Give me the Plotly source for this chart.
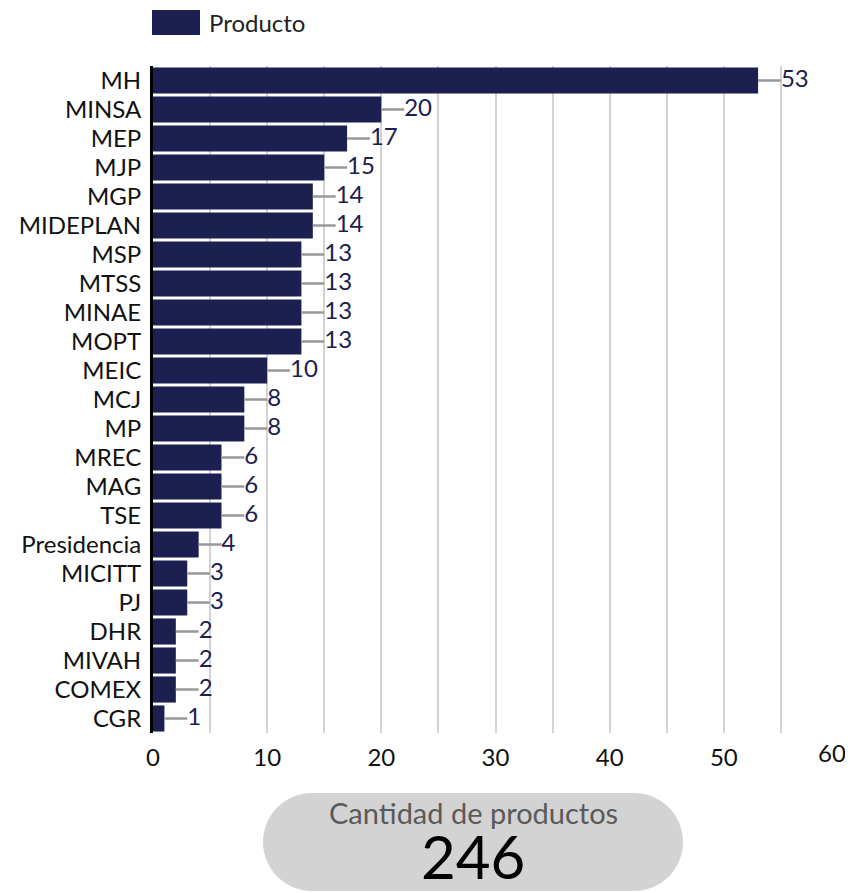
import plotly.graph_objects as go

categories = ["MH", "MINSA", "MEP", "MJP", "MGP", "MIDEPLAN", "MSP", "MTSS", "MINAE", "MOPT",
              "MEIC", "MCJ", "MP", "MREC", "MAG", "TSE", "Presidencia", "MICITT", "PJ",
              "DHR", "MIVAH", "COMEX", "CGR"]
values = [53, 20, 17, 15, 14, 14, 13, 13, 13, 13, 10, 8, 8, 6, 6, 6, 4, 3, 3, 2, 2, 2, 1]
x_ticks = [0, 10, 20, 30, 40, 50, 60]
series_name = "Producto"
total_label = "Cantidad de productos"

NAVY = "#1b2050"
FONT = "Lato, 'Open Sans', sans-serif"
OFF = 8  # page body margin
W, H = 853 - OFF, 893 - OFF
PL, PR, PT, PB = 153, 838, 66, 733  # plot area in screenshot pixels
L, R, T, B = PL - OFF, W - (PR - OFF), PT - OFF, H - (PB - OFF)
LEADER = 2.0  # leader line length in data units

fig = go.Figure()
fig.add_trace(go.Bar(
    y=categories, x=values, orientation="h", marker=dict(color=NAVY, line=dict(width=0)),
    name=series_name, showlegend=False, hoverinfo="x+y"))

lx, ly = [], []
for c, v in zip(categories, values):
    lx += [v, v + LEADER, None]
    ly += [c, c, None]
fig.add_trace(go.Scatter(x=lx, y=ly, mode="lines", line=dict(color="#999999", width=2.5),
                         showlegend=False, hoverinfo="skip", cliponaxis=False))
fig.add_trace(go.Scatter(x=[v + LEADER for v in values], y=categories, mode="text",
                         text=[str(v) for v in values], textposition="middle right",
                         textfont=dict(color=NAVY, size=24, family=FONT),
                         showlegend=False, hoverinfo="skip", cliponaxis=False))

pw, ph = PR - PL, PB - PT
def px(x):
    return (x - PL) / pw
def py(y):
    return (PB - y) / ph

# custom legend
fig.add_shape(type="rect", xref="paper", yref="paper", x0=px(152), x1=px(200), y0=py(35), y1=py(10),
              fillcolor=NAVY, line=dict(width=0))
fig.add_annotation(xref="paper", yref="paper", x=px(207), y=py(22.5), text=series_name,
                   showarrow=False, xanchor="left", yanchor="middle",
                   font=dict(size=24, color="#222222", family=FONT))

# last x tick label nudged inward so it is not cut at the right edge
tick_text = [str(t) for t in x_ticks[:-1]] + [""]
fig.add_annotation(xref="x", yref="paper", x=x_ticks[-1], y=py(753), text=str(x_ticks[-1]),
                   showarrow=False, xanchor="center", yanchor="middle", xshift=-6,
                   font=dict(size=24, color="#111111", family=FONT))

# total pill
x0, x1, y0, y1 = 263, 683, 793, 891
r = (y1 - y0) / 2
k = 0.5523 * r
pts = [
    ("M", [(x0 + r, y0)]),
    ("L", [(x1 - r, y0)]),
    ("C", [(x1 - r + k, y0), (x1, y0 + r - k), (x1, y0 + r)]),
    ("C", [(x1, y0 + r + k), (x1 - r + k, y1), (x1 - r, y1)]),
    ("L", [(x0 + r, y1)]),
    ("C", [(x0 + r - k, y1), (x0, y0 + r + k), (x0, y0 + r)]),
    ("C", [(x0, y0 + r - k), (x0 + r - k, y0), (x0 + r, y0)]),
]
path = ""
for cmd, ps in pts:
    path += cmd + " " + " ".join(f"{px(a):.5f},{py(b):.5f}" for a, b in ps) + " "
path += "Z"
fig.add_shape(type="path", xref="paper", yref="paper", path=path,
              fillcolor="#d3d3d3", line=dict(width=0))
fig.add_annotation(xref="paper", yref="paper", x=px((x0 + x1) / 2), y=py(812), text=total_label,
                   showarrow=False, xanchor="center", yanchor="middle",
                   font=dict(size=29, color="#5a5a5a", family=FONT))
fig.add_annotation(xref="paper", yref="paper", x=px((x0 + x1) / 2), y=py(856), text=str(sum(values)),
                   showarrow=False, xanchor="center", yanchor="middle",
                   font=dict(size=60, color="#000000", family=FONT))

fig.update_layout(
    width=W, height=H, margin=dict(l=L, r=R, t=T, b=B, autoexpand=False),
    plot_bgcolor="white", paper_bgcolor="white",
    bargap=0.1, showlegend=False,
    font=dict(family=FONT, size=24, color="#000000"),
    xaxis=dict(range=[0, 60], tickmode="array", tickvals=x_ticks, ticktext=tick_text,
               showgrid=True, gridcolor="#d3d3d3", gridwidth=2,
               minor=dict(dtick=5, tick0=0, showgrid=True, gridcolor="#d3d3d3", gridwidth=2),
               zeroline=False, showline=False, ticks="", ticklabelstandoff=8,
               tickfont=dict(size=24, color="#111111"),
               automargin=False, fixedrange=True),
    yaxis=dict(autorange=False, range=[22.5, -0.5], showline=True, linecolor="#000000", linewidth=3,
               showgrid=False, ticks="", ticklabelstandoff=4, tickfont=dict(size=24, color="#111111"),
               automargin=False, fixedrange=True),
)

fig.write_html("out.html")
